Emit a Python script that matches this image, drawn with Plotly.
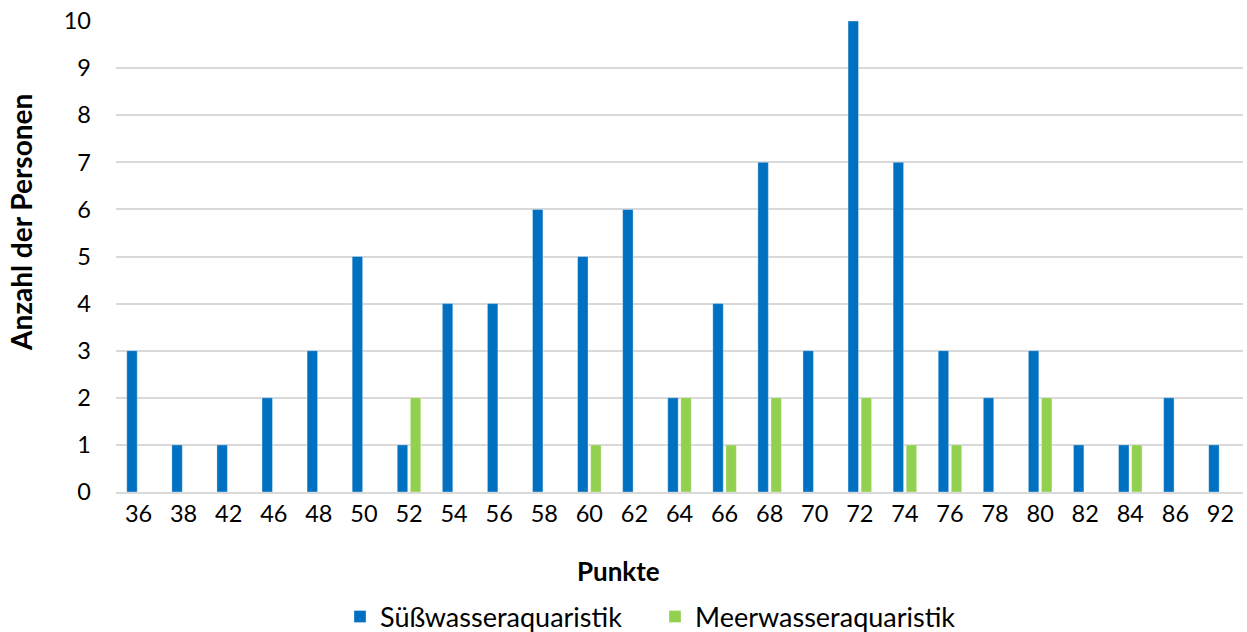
import plotly.graph_objects as go

categories = ["36","38","42","46","48","50","52","54","56","58","60","62","64","66","68","70","72","74","76","78","80","82","84","86","92"]
suess = [3,1,1,2,3,5,1,4,4,6,5,6,2,4,7,3,10,7,3,2,3,1,1,2,1]
meer = [0,0,0,0,0,0,2,0,0,0,1,0,2,1,2,0,2,1,1,0,2,0,1,0,0]
y_ticks = list(range(0, 11))

FONT = "Lato"
W, H = 1247, 632
L, R, T, B = 116, 4, 21, 140
PW, PH = W - L - R, H - T - B

fig = go.Figure()
fig.add_trace(go.Bar(x=categories, y=suess, name="Süßwasseraquaristik",
                     marker=dict(color="#0070C0", line=dict(color="rgba(255,255,255,0.35)", width=1))))
fig.add_trace(go.Bar(x=categories, y=meer, name="Meerwasseraquaristik",
                     marker=dict(color="#92D050", line=dict(color="rgba(255,255,255,0.35)", width=1))))

fig.update_layout(
    width=W, height=H,
    margin=dict(l=L, r=R, t=T, b=B, autoexpand=False),
    plot_bgcolor="white", paper_bgcolor="white",
    barmode="group", bargap=0.42, bargroupgap=0.2,
    font=dict(family=FONT, size=23, color="#000000"),
    showlegend=True,
    legend=dict(orientation="h", x=(340 - L) / PW, xanchor="left",
                y=(H - 617 - B) / PH, yanchor="middle",
                font=dict(family=FONT, size=27), traceorder="normal",
                entrywidth=270, entrywidthmode="pixels"),
    xaxis=dict(type="category", showline=True, linecolor="#d9d9d9", linewidth=2,
               ticks="", showgrid=False, tickfont=dict(size=23.5), automargin=False),
    yaxis=dict(range=[0, 10], tickvals=y_ticks, showgrid=True, gridcolor="#d9d9d9",
               gridwidth=1.5, zeroline=False, ticks="", ticklabelstandoff=24,
               ticklabeloverflow="allow",
               tickfont=dict(size=23.5), automargin=False),
    annotations=[
        dict(text="<b>Punkte</b>", x=(618 - L) / PW, xref="paper",
             y=(H - 571 - B) / PH, yref="paper",
             showarrow=False, font=dict(family=FONT, size=26), yanchor="middle"),
        dict(text="<b>Anzahl der Personen</b>", x=(21 - L) / PW, xref="paper",
             xanchor="center", y=(H - 223 - B) / PH, yref="paper",
             yanchor="middle", textangle=-90, showarrow=False,
             font=dict(family=FONT, size=28)),
    ],
)

fig.write_html("out.html", config={"displayModeBar": False},
               post_script="document.body.style.margin='0';")
